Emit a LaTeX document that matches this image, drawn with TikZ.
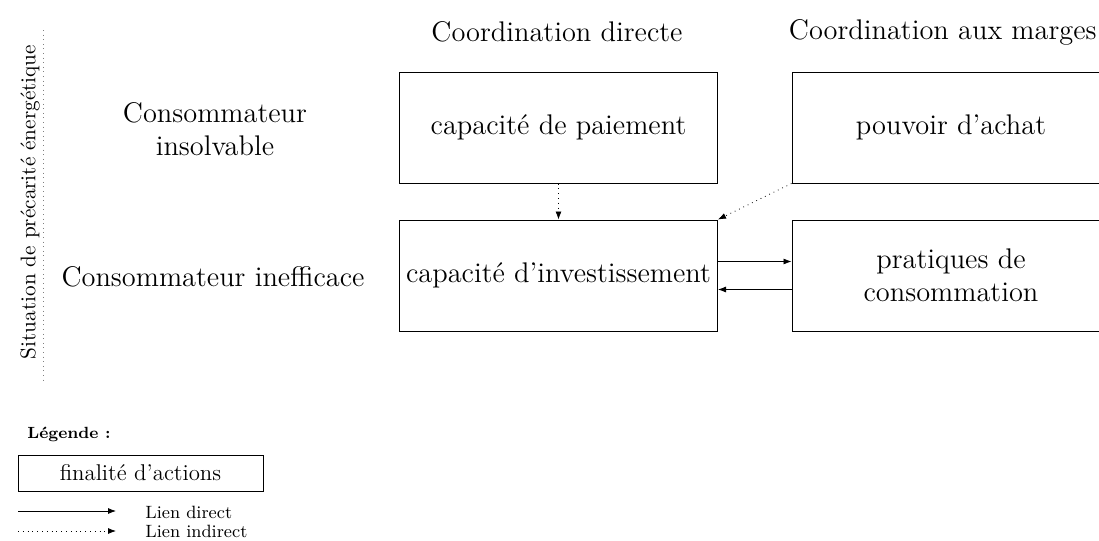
\documentclass[tikz,border=0pt]{standalone}
\usetikzlibrary{arrows.meta}
\begin{document}
\begin{tikzpicture}[x=0.5pt,y=-0.5pt,
  box/.style={draw, line width=0.5pt, minimum width=159pt, minimum height=55.5pt, inner sep=0pt, align=center, font=\fontsize{14.2}{16.5}\selectfont},
  lbl/.style={align=center, font=\fontsize{14.2}{16.5}\selectfont},
  conn/.style={line width=0.4pt, -{Latex[length=4pt,width=3pt]}},
  small/.style={font=\fontsize{8.9}{10}\selectfont, anchor=west, inner sep=0pt}]
\useasboundingbox (0,0) rectangle (1099,541);
\node[box] (pay) at (558.5,127.5) {capacité de paiement};
\node[box] (pow) at (951,127.5) {pouvoir d'achat};
\node[box] (inv) at (558.5,275.5) {capacité d'investissement};
\node[box] (pra) at (951,275.5) {pratiques de\\consommation};
\node[lbl] (cd) at (557,32) {Coordination directe};
\node[lbl, anchor=east, inner sep=0pt] (cm) at (1097,32) {Coordination aux marges};
\node[lbl] (ci) at (215,129) {Consommateur\\insolvable};
\node[lbl] (cn) at (213,277) {Consommateur inefficace};
\node[font=\fontsize{10.6}{12}\selectfont, rotate=90] (sit) at (30,202) {Situation de précarité énergétique};
\coordinate (vt) at (43,30);
\coordinate (vb) at (43,380);
\draw[dotted, line width=0.3pt, gray] (vt) -- (vb);
\draw[conn, dotted] (pay.south) -- (inv.north);
\draw[conn, dotted] (pow.south west) -- (inv.north east);
\draw[conn] ([yshift=7pt]inv.east) -- ([yshift=7pt]inv.east -| pra.west);
\draw[conn] ([yshift=-7pt]pra.west) -- ([yshift=-7pt]pra.west -| inv.east);
\node[font=\bfseries\fontsize{8.1}{10}\selectfont, anchor=west, inner sep=0pt] (leg) at (27,434) {Légende :};
\node[draw, line width=0.5pt, minimum width=122.5pt, minimum height=18pt, inner sep=0pt, font=\fontsize{11.4}{13}\selectfont] (fin) at (140.5,473) {finalité d'actions};
\coordinate (a1) at (18,511);
\coordinate (a2) at (116,511);
\coordinate (b1) at (18,531);
\coordinate (b2) at (116,531);
\draw[conn] (a1) -- (a2);
\draw[conn, dotted] (b1) -- (b2);
\node[small] (ld) at (145,512) {Lien direct};
\node[small] (li) at (145,531) {Lien indirect};
\end{tikzpicture}
\end{document}
